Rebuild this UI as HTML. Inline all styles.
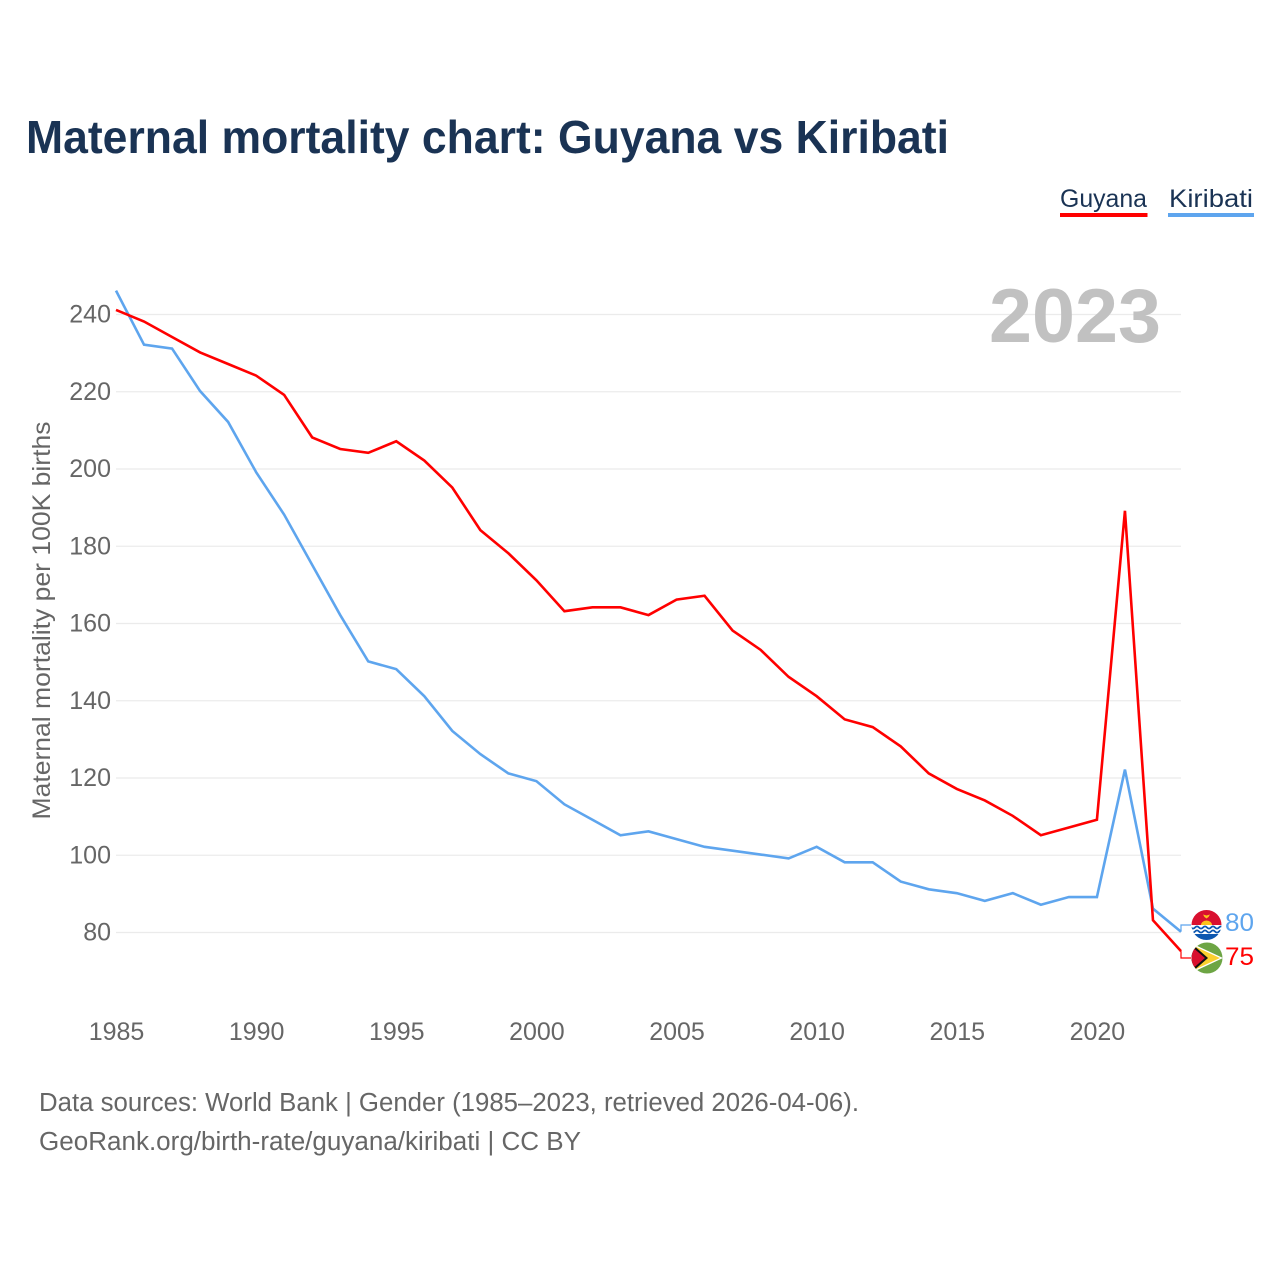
<!DOCTYPE html>
<html lang="en">
<head>
<meta charset="utf-8">
<title>Maternal mortality chart: Guyana vs Kiribati</title>
<style>
html,body{margin:0;padding:0;background:#fff;}
svg{display:block;font-family:"Liberation Sans",sans-serif;}
</style>
</head>
<body>
<svg id="chart" width="1280" height="1280" viewBox="0 0 1280 1280" xmlns="http://www.w3.org/2000/svg">
  <rect x="0" y="0" width="1280" height="1280" fill="#ffffff"/>
  <text x="26" y="153" font-size="46" font-weight="700" fill="#1a3354" textLength="923" lengthAdjust="spacingAndGlyphs">Maternal mortality chart: Guyana vs Kiribati</text>

  <g>
    <text x="1060" y="207" font-size="25" fill="#1a3354" textLength="87" lengthAdjust="spacingAndGlyphs">Guyana</text>
    <rect x="1060" y="213" width="87.5" height="4" fill="#ff0000"/>
  </g>
  <g>
    <text x="1169" y="207" font-size="25" fill="#1a3354" textLength="84" lengthAdjust="spacingAndGlyphs">Kiribati</text>
    <rect x="1168" y="213" width="86" height="4" fill="#5ea5ee"/>
  </g>

  <g id="grid"></g>
  <g id="yticks"></g>
  <g id="xticks"></g>

  <text x="1161" y="342" font-size="76" font-weight="700" fill="#c1c1c1" text-anchor="end" textLength="172" lengthAdjust="spacingAndGlyphs">2023</text>

  <text transform="translate(50,620.5) rotate(-90)" font-size="25" fill="#666666" text-anchor="middle" textLength="398" lengthAdjust="spacingAndGlyphs">Maternal mortality per 100K births</text>

  <g id="series"></g>

  <defs>
    <clipPath id="flag-clip-ki"><circle cx="1206.500" cy="925" r="15"/></clipPath>
    <clipPath id="flag-clip-gy"><circle cx="1207" cy="958" r="15.500"/></clipPath>
  </defs>

  <g clip-path="url(#flag-clip-ki)">
    <rect x="1191" y="910" width="31" height="15" fill="#d9102f"/>
    <path d="M1201 925a5.500 4.500 0 0 1 11 0z" fill="#fcc21b"/>
    <path d="M1203 914.500l3.500 1 3.500-1-1.500 2.500-2 1.500-2-1.500z" fill="#fcc21b"/>
    <rect x="1191" y="925" width="31" height="15" fill="#ffffff"/>
    <path d="M1191 927.500q2 2.200 4 0t4 0 4 0 4 0 4 0 4 0 4 0 4 0M1191 931.500q2 2.200 4 0t4 0 4 0 4 0 4 0 4 0 4 0 4 0" fill="none" stroke="#0d57b0" stroke-width="1.700"/>
    <rect x="1191" y="934" width="31" height="7" fill="#0d57b0"/>
  </g>
  <g clip-path="url(#flag-clip-gy)">
    <rect x="1191" y="942" width="32" height="32" fill="#6da544"/>
    <path d="M1193 944l30 14-30 14z" fill="#ffffff"/>
    <path d="M1194 946l26 12-26 12z" fill="#fbd02f"/>
    <path d="M1191 943l17 15-17 15z" fill="#111111"/>
    <path d="M1191 946l14 12-14 12z" fill="#d80f2e"/>
  </g>

  <text x="1225" y="931" font-size="25" fill="#5ea5ee" textLength="29" lengthAdjust="spacingAndGlyphs">80</text>
  <text x="1225" y="965" font-size="25" fill="#ff0000" textLength="29" lengthAdjust="spacingAndGlyphs">75</text>

  <text x="39" y="1111" font-size="25.500" fill="#666666" textLength="820" lengthAdjust="spacingAndGlyphs">Data sources: World Bank | Gender (1985–2023, retrieved 2026-04-06).</text>
  <text x="39" y="1150" font-size="25.500" fill="#666666" textLength="542" lengthAdjust="spacingAndGlyphs">GeoRank.org/birth-rate/guyana/kiribati | CC BY</text>
</svg>
<script>
const years = [1985,1986,1987,1988,1989,1990,1991,1992,1993,1994,1995,1996,1997,1998,1999,2000,2001,2002,2003,2004,2005,2006,2007,2008,2009,2010,2011,2012,2013,2014,2015,2016,2017,2018,2019,2020,2021,2022,2023];
const guyanaValues = [241,238,234,230,227,224,219,208,205,204,207,202,195,184,178,171,163,164,164,162,166,167,158,153,146,141,135,133,128,121,117,114,110,105,107,109,189,83,75];
const kiribatiValues = [246,232,231,220,212,199,188,175,162,150,148,141,132,126,121,119,113,109,105,106,104,102,101,100,99,102,98,98,93,91,90,88,90,87,89,89,122,86,80];
const yTickLabels = [80,100,120,140,160,180,200,220,240];
const xTickLabels = [1985,1990,1995,2000,2005,2010,2015,2020];

const SVG_NS = 'http://www.w3.org/2000/svg';
const xScale = function (year) { return 116 + (year - 1985) * (1181 - 116) / 38; };
const yScale = function (value) { return 932.5 - (value - 80) * 618 / 160; };
const lineY = function (value) { return yScale(value) - 0.7; };

const grid = document.getElementById('grid');
const yticks = document.getElementById('yticks');
const xticks = document.getElementById('xticks');
const series = document.getElementById('series');

yTickLabels.forEach(function (tick) {
  const line = document.createElementNS(SVG_NS, 'line');
  
  
  line.setAttribute('x1', 116);
  line.setAttribute('x2', 1181);
  line.setAttribute('y1', yScale(tick));
  line.setAttribute('y2', yScale(tick));
  line.setAttribute('stroke', '#ebebeb');
  line.setAttribute('stroke-width', 1.3);
  grid.appendChild(line);

  const label = document.createElementNS(SVG_NS, 'text');
  
  
  label.setAttribute('x', 111);
  label.setAttribute('y', yScale(tick) + 8);
  label.setAttribute('font-size', 25);
  label.setAttribute('fill', '#666666');
  label.setAttribute('text-anchor', 'end');
  label.textContent = tick;
  yticks.appendChild(label);
});

xTickLabels.forEach(function (tick) {
  const label = document.createElementNS(SVG_NS, 'text');
  
  
  label.setAttribute('x', xScale(tick) + 0.5);
  label.setAttribute('y', 1040);
  label.setAttribute('font-size', 25);
  label.setAttribute('fill', '#666666');
  label.setAttribute('text-anchor', 'middle');
  label.textContent = tick;
  xticks.appendChild(label);
});

function linePoints(values) {
  return values.map(function (value, i) {
    return xScale(years[i]).toFixed(2) + ',' + lineY(value).toFixed(2);
  }).join(' ');
}

function connectorPoints(values, labelY) {
  const endX = xScale(years[years.length - 1]);
  const endY = lineY(values[values.length - 1]);
  return endX + ',' + endY + ' ' + endX + ',' + labelY + ' ' + (endX + 10) + ',' + labelY;
}

const kiribatiLine = document.createElementNS(SVG_NS, 'polyline');


kiribatiLine.setAttribute('points', linePoints(kiribatiValues));
kiribatiLine.setAttribute('fill', 'none');
kiribatiLine.setAttribute('stroke', '#5ea5ee');
kiribatiLine.setAttribute('stroke-width', 2.6);
series.appendChild(kiribatiLine);

const guyanaLine = document.createElementNS(SVG_NS, 'polyline');


guyanaLine.setAttribute('points', linePoints(guyanaValues));
guyanaLine.setAttribute('fill', 'none');
guyanaLine.setAttribute('stroke', '#ff0000');
guyanaLine.setAttribute('stroke-width', 2.6);
series.appendChild(guyanaLine);

const kiribatiConnector = document.createElementNS(SVG_NS, 'polyline');


kiribatiConnector.setAttribute('points', connectorPoints(kiribatiValues, 925));
kiribatiConnector.setAttribute('fill', 'none');
kiribatiConnector.setAttribute('stroke', '#5ea5ee');
kiribatiConnector.setAttribute('stroke-width', 1.2);
series.appendChild(kiribatiConnector);

const guyanaConnector = document.createElementNS(SVG_NS, 'polyline');


guyanaConnector.setAttribute('points', connectorPoints(guyanaValues, 958));
guyanaConnector.setAttribute('fill', 'none');
guyanaConnector.setAttribute('stroke', '#ff0000');
guyanaConnector.setAttribute('stroke-width', 1.2);
series.appendChild(guyanaConnector);
</script>
</body>
</html>
